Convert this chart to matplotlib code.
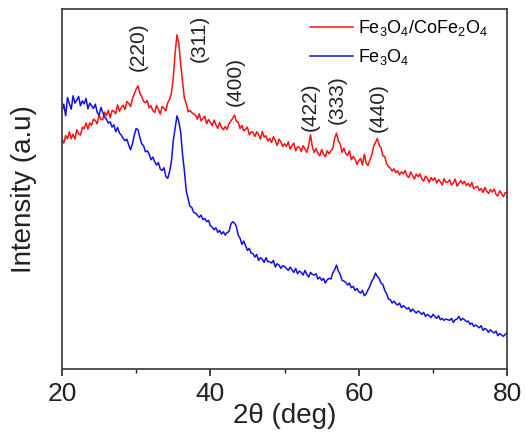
import numpy as np
import matplotlib
matplotlib.use("Agg")
import matplotlib.pyplot as plt
from matplotlib.ticker import MultipleLocator

plt.rcParams['font.family'] = ['Liberation Sans', 'DejaVu Sans']
plt.rcParams['mathtext.fontset'] = 'custom'
plt.rcParams['mathtext.rm'] = 'Liberation Sans'

two_theta = np.arange(20.0, 80.001, 0.25)

red_intensity = [
    691, 678, 701, 691, 712, 691, 705, 690,
    718, 706, 702, 726, 721, 739, 720, 739,
    731, 750, 746, 736, 763, 749, 749, 771,
    760, 777, 754, 776, 774, 766, 793, 774,
    785, 792, 779, 803, 797, 788, 812, 826,
    840, 850, 828, 818, 803, 799, 806, 784,
    790, 776, 770, 791, 779, 765, 788, 783,
    775, 799, 808, 828, 872, 948, 1003, 978,
    915, 864, 812, 797, 772, 776, 770, 765,
    762, 750, 766, 745, 752, 759, 736, 749,
    741, 730, 747, 733, 722, 740, 726, 718,
    728, 719, 736, 744, 752, 762, 744, 741,
    722, 731, 715, 720, 726, 703, 712, 710,
    698, 712, 704, 690, 713, 696, 700, 684,
    692, 680, 697, 686, 671, 690, 682, 668,
    676, 668, 682, 660, 671, 678, 655, 667,
    666, 653, 670, 661, 650, 672, 703, 666,
    650, 662, 647, 640, 659, 645, 637, 655,
    646, 655, 662, 692, 708, 684, 676, 650,
    663, 646, 641, 655, 628, 638, 630, 614,
    625, 632, 612, 645, 618, 611, 628, 642,
    668, 680, 692, 672, 664, 640, 638, 616,
    608, 603, 594, 601, 589, 595, 583, 592,
    586, 596, 580, 575, 591, 581, 570, 585,
    577, 586, 570, 564, 579, 572, 560, 575,
    566, 574, 558, 569, 562, 552, 571, 560,
    561, 568, 552, 559, 570, 549, 557, 566,
    556, 563, 551, 557, 548, 560, 541, 546,
    548, 536, 542, 530, 545, 534, 527, 539,
    531, 540, 524, 519, 535, 526, 517, 530,
    526,
]

blue_intensity = [
    772, 795, 760, 815, 796, 780, 820, 798,
    808, 818, 790, 805, 796, 812, 781, 798,
    790, 782, 795, 770, 762, 785, 770, 756,
    750, 738, 742, 726, 733, 712, 725, 708,
    702, 692, 685, 690, 672, 658, 676, 702,
    722, 718, 695, 676, 670, 652, 655, 646,
    628, 636, 622, 612, 620, 600, 596, 604,
    578, 572, 592, 622, 684, 722, 760, 742,
    712, 645, 595, 535, 512, 488, 485, 470,
    468, 462, 455, 462, 448, 452, 442, 446,
    430, 426, 418, 424, 410, 416, 405, 412,
    402, 410, 412, 434, 442, 438, 428, 402,
    393, 374, 384, 370, 356, 362, 348, 346,
    336, 344, 326, 334, 330, 320, 334, 322,
    322, 318, 326, 306, 316, 312, 302, 310,
    308, 302, 296, 306, 298, 290, 302, 286,
    294, 290, 282, 296, 284, 276, 290, 284,
    282, 286, 270, 276, 266, 272, 258, 268,
    272, 270, 288, 298, 312, 294, 284, 266,
    264, 260, 252, 258, 244, 248, 236, 242,
    232, 228, 236, 220, 226, 238, 248, 264,
    272, 288, 278, 272, 258, 254, 236, 226,
    210, 208, 198, 204, 196, 192, 198, 184,
    190, 186, 180, 184, 172, 180, 174, 168,
    174, 170, 164, 170, 158, 164, 160, 154,
    164, 158, 152, 160, 148, 152, 146, 150,
    148, 146, 152, 140, 148, 150, 158, 146,
    152, 148, 142, 144, 134, 138, 128, 132,
    128, 124, 130, 116, 122, 118, 110, 118,
    112, 108, 114, 100, 106, 102, 98, 104,
    110,
]

peak_labels = ['(220)', '(311)', '(400)', '(422)', '(333)', '(440)']
peak_label_x = [30.25, 38.5, 43.3, 53.4, 57.1, 62.6]
peak_label_y = [968, 991, 863, 786, 809, 786]

series_names = [r'Fe$_3$O$_4$/CoFe$_2$O$_4$', r'Fe$_3$O$_4$']

fig = plt.figure(figsize=(5.25, 4.38), dpi=100)
ax = fig.add_axes([0.118, 0.1575, 0.848, 0.8215])

ax.plot(two_theta, red_intensity, color='#ff1010', lw=1.1, label=series_names[0])
ax.plot(two_theta, blue_intensity, color='#1010ee', lw=1.1, label=series_names[1])

for lab, lx, ly in zip(peak_labels, peak_label_x, peak_label_y):
    ax.text(lx, ly, lab, rotation=90, ha='center', va='center', fontsize=15, color='#222222')

ax.set_xlim(20, 80)
ax.set_ylim(0, 1080)
ax.xaxis.set_major_locator(MultipleLocator(20))
ax.xaxis.set_minor_locator(MultipleLocator(10))
ax.set_yticks([])
ax.tick_params(axis='x', which='major', direction='out', length=5, width=1.2,
               labelsize=19, colors='#222222', pad=4)
ax.tick_params(axis='x', which='minor', direction='out', length=3, width=1.0, colors='#222222')
for s in ax.spines.values():
    s.set_color('#444444')
    s.set_linewidth(1.3)

ax.set_xlabel('2θ (deg)', fontsize=20, color='#222222', labelpad=-2)
ax.set_ylabel('Intensity (a.u)', fontsize=20, color='#222222', labelpad=18)

leg = ax.legend(loc='upper left', bbox_to_anchor=(0.52, 1.02), frameon=False,
                fontsize=13, handlelength=2.4, handletextpad=0.3, labelspacing=0.5)

fig.savefig('out.png', dpi=100)
